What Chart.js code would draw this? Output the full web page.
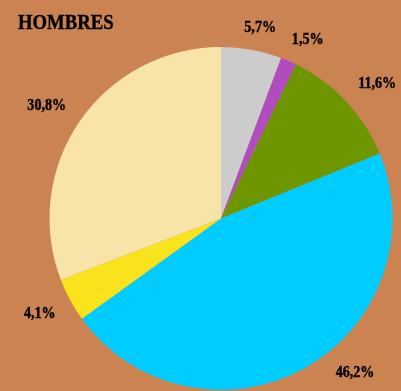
<!DOCTYPE html>
<html>
<head>
<meta charset="utf-8">
<script src="https://cdn.jsdelivr.net/npm/chart.js@4/dist/chart.umd.min.js"></script>
<style>
  html, body { margin: 0; padding: 0; background: #cc8352; }
  #wrap { width: 401px; height: 391px; position: relative; }
</style>
</head>
<body>
<div id="wrap"><canvas id="pie"></canvas></div>
<script>
const title = 'HOMBRES';
const labels = ['A', 'B', 'C', 'D', 'E', 'F'];
const values = [5.7, 1.5, 11.6, 46.2, 4.1, 30.8];
const colors = ['#cccccc', '#b04cbf', '#6e9600', '#00ccff', '#f8e31c', '#f8e4a8'];

// texto condensado tipo Times en negrita
function drawCondensed(ctx, text, x, y, size, squeeze, align) {
  ctx.save();
  ctx.font = `bold ${size}px "Liberation Serif", "DejaVu Serif", serif`;
  ctx.fillStyle = '#000';
  ctx.strokeStyle = '#000';
  ctx.lineWidth = 0.4;
  ctx.textBaseline = 'middle';
  const w = ctx.measureText(text).width * squeeze;
  let left = x;
  if (align == 'center') left = x - w / 2;
  ctx.translate(left, y);
  ctx.scale(squeeze, 1);
  ctx.textAlign = 'left';
  ctx.fillText(text, 0, 0);
  ctx.strokeText(text, 0, 0);
  ctx.restore();
  return w;
}

const labelsPlugin = {
  id: 'pieLabels',
  afterDraw(chart) {
    const ctx = chart.ctx;
    drawCondensed(ctx, title, 18, 23, 22, 0.85, 'left');

    const meta = chart.getDatasetMeta(0);
    const hh = 6;
    const maxAnchorY = chart.height - 18 - hh;
    meta.data.forEach((arc, i) => {
      const mid = (arc.startAngle + arc.endAngle) / 2;
      const dx = Math.cos(mid), dy = Math.sin(mid);
      const text = values[i].toFixed(1).replace('.', ',') + '%';
      ctx.save();
      ctx.font = 'bold 16px "Liberation Serif", serif';
      const hw = ctx.measureText(text).width * 0.88 / 2;
      ctx.restore();
      // la esquina más cercana de la etiqueta queda sobre el radio medio
      const d = arc.outerRadius + 16.5;
      let ax = arc.x + dx * d;
      let ay = arc.y + dy * d;
      if (ay > maxAnchorY) {
        const oy = maxAnchorY - arc.y;
        ax = arc.x + Math.sign(dx) * Math.sqrt(Math.max(d * d - oy * oy, 0));
        ay = maxAnchorY;
      }
      const fx = Math.max(-1, Math.min(1, 2 * dx));
      const fy = Math.max(-1, Math.min(1, 2 * dy));
      const x = ax + fx * hw;
      const y = ay + fy * hh;
      drawCondensed(ctx, text, x, y, 16, 0.88, 'center');
    });
  }
};

new Chart(document.getElementById('pie'), {
  type: 'pie',
  data: {
    labels: labels,
    datasets: [{
      data: values,
      backgroundColor: colors,
      borderWidth: 0
    }]
  },
  options: {
    responsive: true,
    maintainAspectRatio: false,
    animation: false,
    layout: { padding: { top: 47, bottom: 1, left: 49, right: 8 } },
    plugins: {
      legend: { display: false },
      title: { display: false },
      tooltip: { enabled: false }
    }
  },
  plugins: [labelsPlugin]
});
</script>
</body>
</html>
